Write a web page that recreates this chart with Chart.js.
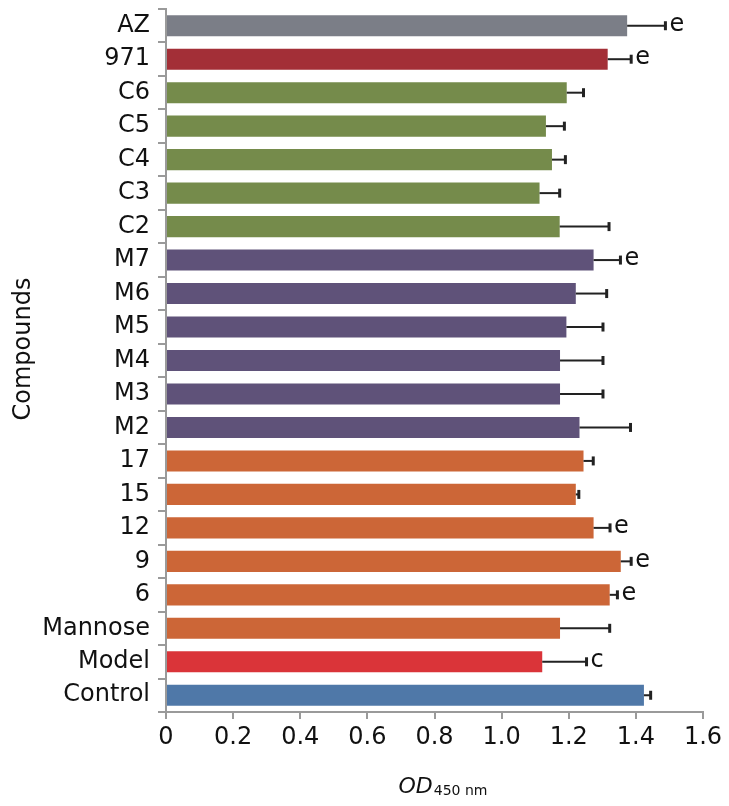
<!DOCTYPE html>
<html>
<head>
<meta charset="utf-8">
<script src="https://cdn.jsdelivr.net/npm/chart.js@4/dist/chart.umd.min.js"></script>
<style>
html,body{margin:0;padding:0;background:#fff;}
#wrap{position:relative;width:729px;height:806px;}
</style>
</head>
<body>
<div id="wrap"><canvas id="c" width="729" height="806"></canvas></div>
<script>
const categories = ['AZ','971','C6','C5','C4','C3','C2','M7','M6','M5','M4','M3','M2','17','15','12','9','6','Mannose','Model','Control'];
const odValues   = [1.374,1.316,1.194,1.132,1.150,1.113,1.173,1.274,1.221,1.193,1.174,1.174,1.232,1.244,1.221,1.274,1.355,1.322,1.174,1.121,1.424];
const odErrors   = [0.114,0.070,0.050,0.055,0.040,0.060,0.147,0.080,0.092,0.109,0.128,0.128,0.152,0.029,0.009,0.049,0.031,0.023,0.148,0.132,0.020];
const sigLetters = ['e','e','','','','','','e','','','','','','','','e','e','e','','c',''];
const groups     = ['AZ','971','C','C','C','C','C','M','M','M','M','M','M','N','N','N','N','N','N','Model','Control'];
const xTickLabels = ['0','0.2','0.4','0.6','0.8','1.0','1.2','1.4','1.6'];
const yTitle = 'Compounds';

const groupColors = {AZ:'#7b7e87','971':'#a32f37',C:'#758b4b',M:'#5f5279',N:'#cc6637',Model:'#da3439',Control:'#4f78a8'};
const FONT = "'DejaVu Sans', sans-serif";

const errorPlugin = {
  id: 'errorBars',
  afterDatasetsDraw(chart) {
    const ctx = chart.ctx;
    const x = chart.scales.x, y = chart.scales.y;
    ctx.save();
    ctx.strokeStyle = '#222';
    ctx.lineWidth = 2;
    ctx.fillStyle = '#111';
    ctx.font = '24px ' + FONT;
    ctx.textBaseline = 'middle';
    ctx.textAlign = 'left';
    odValues.forEach((v, i) => {
      const yc = y.getPixelForValue(i);
      const x0 = x.getPixelForValue(v);
      const x1 = x.getPixelForValue(v + odErrors[i]);
      ctx.beginPath();
      ctx.moveTo(x0, yc); ctx.lineTo(x1, yc);
      ctx.stroke();
      ctx.lineWidth = 3;
      ctx.beginPath();
      ctx.moveTo(x1, yc - 4.5); ctx.lineTo(x1, yc + 4.5);
      ctx.stroke();
      ctx.lineWidth = 2;
      if (sigLetters[i]) ctx.fillText(sigLetters[i], x1 + 4, yc - 1);
    });
    // x axis title: OD (italic) + subscript 450 nm
    const cx = (chart.chartArea.left + chart.chartArea.right) / 2;
    ctx.textBaseline = 'alphabetic';
    ctx.font = 'italic 22px ' + FONT;
    const w1 = ctx.measureText('OD').width;
    ctx.font = '14px ' + FONT;
    const w2 = ctx.measureText('450 nm').width;
    const start = cx + 8 - (w1 + w2) / 2;
    ctx.font = 'italic 22px ' + FONT;
    ctx.fillText('OD', start, 793);
    ctx.font = '14px ' + FONT;
    ctx.fillText('450 nm', start + w1 + 1, 795);
    // y axis title
    ctx.translate(24, 349);
    ctx.rotate(-Math.PI / 2);
    ctx.textAlign = 'center';
    ctx.textBaseline = 'middle';
    ctx.font = '24px ' + FONT;
    ctx.fillText(yTitle, 0, 0);
    ctx.restore();
  }
};

new Chart(document.getElementById('c'), {
  type: 'bar',
  data: {
    labels: categories,
    datasets: [{
      data: odValues,
      backgroundColor: groups.map(g => groupColors[g]),
      borderWidth: 0,
      barPercentage: 0.63,
      categoryPercentage: 1.0
    }]
  },
  options: {
    indexAxis: 'y',
    responsive: false,
    animation: false,
    devicePixelRatio: 1,
    layout: { padding: { top: 9, right: 26, bottom: 0, left: 0 } },
    plugins: { legend: { display: false }, tooltip: { enabled: false } },
    scales: {
      x: {
        min: 0, max: 1.6,
        ticks: {
          stepSize: 0.2,
          color: '#111',
          font: { family: FONT, size: 24 },
          padding: 4,
          maxRotation: 0,
          callback: (val, idx) => xTickLabels[idx]
        },
        grid: { drawOnChartArea: false, drawTicks: true, tickLength: 7, color: '#9a9a9a', lineWidth: 2 },
        border: { display: true, color: '#9a9a9a', width: 2 },
        afterFit(s) { s.height = 94; s.paddingLeft = 0; s.paddingRight = 0; }
      },
      y: {
        ticks: {
          color: '#111',
          font: { family: FONT, size: 24 },
          padding: 8
        },
        grid: { drawOnChartArea: false, drawTicks: true, tickLength: 8, color: '#9a9a9a', lineWidth: 2, offset: true },
        border: { display: true, color: '#9a9a9a', width: 2 },
        afterFit(s) { s.width = 166; s.paddingTop = 0; s.paddingBottom = 0; }
      }
    }
  },
  plugins: [errorPlugin]
});
</script>
</body>
</html>
